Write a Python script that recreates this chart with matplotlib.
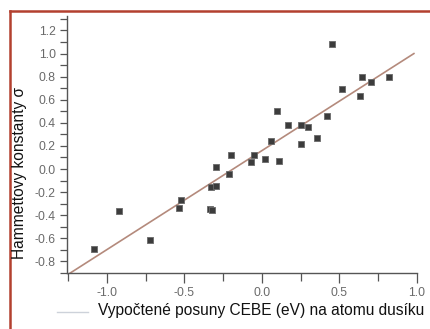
import matplotlib
matplotlib.use("Agg")
import matplotlib.pyplot as plt
import numpy as np
from matplotlib.lines import Line2D

# data
shift_x = [-1.084, -0.92, -0.725, -0.534, -0.52, -0.335, -0.32, -0.33, -0.297, -0.299,
           -0.215, -0.198, -0.05, -0.071, 0.019, 0.112, 0.058, 0.095, 0.17, 0.25,
           0.30, 0.357, 0.252, 0.417, 0.45, 0.514, 0.634, 0.643, 0.703, 0.82]
sigma_y = [-0.695, -0.36, -0.617, -0.34, -0.27, -0.35, -0.357, -0.153, -0.147, 0.017,
           -0.046, 0.12, 0.12, 0.058, 0.087, 0.067, 0.24, 0.505, 0.38, 0.38,
           0.36, 0.27, 0.22, 0.46, 1.08, 0.69, 0.635, 0.80, 0.75, 0.80]
fit_slope = 0.857
fit_intercept = 0.16
fit_range = [-1.237, 0.98]
x_ticks = [-1.0, -0.5, 0.0, 0.5, 1.0]
y_ticks = [-0.8, -0.6, -0.4, -0.2, 0.0, 0.2, 0.4, 0.6, 0.8, 1.0, 1.2]

plt.rcParams['font.family'] = ['Liberation Sans', 'DejaVu Sans']

W, H = 431, 329
fig = plt.figure(figsize=(W / 100, H / 100), dpi=100)
fig.patch.set_facecolor('white')
ax = fig.add_axes([67 / W, 1 - 273 / H, (417 - 67) / W, (273 - 16) / H])

fx = np.array(fit_range)
ax.plot(fx, fit_slope * fx + fit_intercept, color='#b48a7c', lw=1.2, zorder=2)
ax.scatter(shift_x, sigma_y, marker='s', s=20, c='#3c3c3c', edgecolors='#6a6a6a',
           linewidths=0.6, zorder=3)

ax.set_xlim(-1.258, 1.0)
ax.set_ylim(-0.90, 1.325)
ax.set_xticks(x_ticks)
ax.set_xticklabels([f"{v:.1f}" for v in x_ticks])
ax.set_xticks(np.arange(-1.25, 1.01, 0.25), minor=True)
ax.set_yticks(y_ticks)
ax.set_yticklabels([f"{v:.1f}" for v in y_ticks])
ax.set_yticks(np.arange(-0.9, 1.35, 0.1), minor=True)

for s in ['top', 'right']:
    ax.spines[s].set_visible(False)
for s in ['left', 'bottom']:
    ax.spines[s].set_color('#555555')
    ax.spines[s].set_linewidth(1.0)

ax.tick_params(axis='x', which='major', direction='out', length=7, width=0.9,
               color='#555555', labelcolor='#6a6a6a', labelsize=8.8, pad=3)
ax.tick_params(axis='x', which='minor', direction='out', length=6, width=0.9,
               color='#555555')
ax.tick_params(axis='y', which='major', direction='out', length=5, width=0.9,
               color='#555555', labelcolor='#6a6a6a', labelsize=8.8, pad=3)
ax.tick_params(axis='y', which='minor', direction='out', length=5, width=0.9,
               color='#555555')

fig.text(20 / W, 1 - 173 / H, "Hammettovy konstanty σ", rotation=90,
         ha='center', va='center', fontsize=11.2, color='#111111')
fig.text(261 / W, 1 - 311 / H, "Vypočtené posuny CEBE (eV) na atomu dusíku",
         ha='center', va='center', fontsize=11.2, color='#111111')

fig.add_artist(Line2D([57 / W, 88 / W], [1 - 312 / H, 1 - 312 / H],
                      color='#cdd2da', lw=1.0))
# red frame: left and top edges only
fig.add_artist(Line2D([10 / W, 10 / W], [0.0, 1 - 11 / H],
                      color='#b3402f', lw=1.8, solid_capstyle='projecting'))
fig.add_artist(Line2D([10 / W, 1.0], [1 - 11 / H, 1 - 11 / H],
                      color='#b3402f', lw=1.8, solid_capstyle='projecting'))

fig.savefig("out.png", dpi=100)
